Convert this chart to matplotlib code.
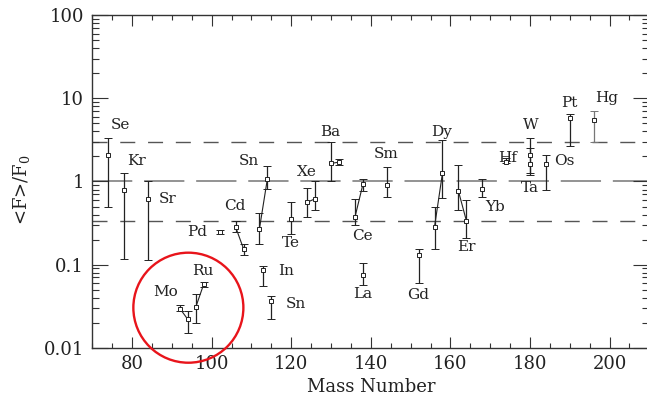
import matplotlib
matplotlib.use("Agg")
import matplotlib.pyplot as plt
from matplotlib.patches import Ellipse
from matplotlib.ticker import LogLocator, MultipleLocator, FixedFormatter, FixedLocator

plt.rcParams["font.family"] = "DejaVu Serif"
plt.rcParams["mathtext.fontset"] = "dejavuserif"
plt.rcParams["lines.scale_dashes"] = False

# ── Data ─────────────────────────────────────────────────────────────────────
mass  = [74, 78, 84, 92, 94, 96, 98, 102, 106, 108, 112, 114, 113, 115, 120,
         124, 126, 130, 132, 136, 138, 138, 144, 152, 156, 158, 162, 164, 168,
         174, 180, 180, 184, 190, 196]
ratio = [2.08, 0.78, 0.61, 0.0296, 0.0219, 0.0308, 0.0582, 0.247, 0.284, 0.155,
         0.27, 1.08, 0.0858, 0.036, 0.357, 0.562, 0.62, 1.65, 1.71, 0.372,
         0.925, 0.0753, 0.90, 0.131, 0.284, 1.265, 0.769, 0.338, 0.813,
         1.71, 2.08, 1.61, 1.64, 5.84, 5.43]
low   = [0.49, 0.117, 0.115, 0.0273, 0.0149, 0.0198, 0.0542, 0.236, 0.25, 0.131,
         0.178, 0.82, 0.0545, 0.0223, 0.232, 0.378, 0.451, 1.0, 1.57, 0.30,
         0.775, 0.0567, 0.657, 0.060, 0.153, 0.628, 0.455, 0.211, 0.646,
         1.65, 1.28, 1.2, 0.79, 2.69, 2.96]
high  = [3.36, 1.28, 1.0, 0.0322, 0.0273, 0.0437, 0.062, 0.258, 0.33, 0.179,
         0.415, 1.52, 0.0966, 0.042, 0.572, 0.83, 1.0, 2.98, 1.88, 0.616,
         1.08, 0.105, 1.51, 0.155, 0.499, 3.12, 1.565, 0.6, 1.07,
         1.93, 3.36, 2.5, 2.06, 6.42, 7.03]
# isotope pairs joined by a line (indices into the arrays above)
pairs = [(3, 4), (5, 6), (8, 9), (10, 11), (15, 16), (17, 18), (19, 20),
         (24, 25), (26, 27)]

elements = ["Se", "Kr", "Sr", "Mo", "Ru", "Pd", "Cd", "Sn", "In", "Sn", "Te",
            "Xe", "Ba", "Sm", "Ce", "La", "Gd", "Dy", "Er", "Yb", "Hf", "W",
            "Os", "Ta", "Pt", "Hg"]
label_x = [77.1, 81.0, 89.0, 88.4, 97.8, 96.4, 105.9, 109.4, 118.7, 121.2, 119.9,
           123.9, 129.7, 143.9, 137.9, 137.9, 151.8, 157.9, 163.9, 171.2, 174.3,
           180.2, 188.5, 180.0, 189.9, 199.3]
label_y = [4.73, 1.78, 0.616, 0.0462, 0.0841, 0.247, 0.512, 1.76, 0.0826, 0.0338,
           0.183, 1.31, 3.90, 2.14, 0.221, 0.0442, 0.0433, 3.97, 0.165, 0.490,
           1.93, 4.77, 1.76, 0.828, 8.70, 9.98]

ref_levels = [1 / 3, 1, 3]
y_ticks = [0.01, 0.1, 1, 10, 100]
y_tick_labels = ["0.01", "0.1", "1", "10", "100"]

# ── Figure ───────────────────────────────────────────────────────────────────
ink = "#222222"
fig = plt.figure(figsize=(6.47, 3.96), dpi=100)
ax = fig.add_axes([0.1427, 0.122, 0.861, 0.8394])
ax.set_yscale("log")
ax.set_xlim(70, 210)
ax.set_ylim(0.01, 100)

# reference lines
ax.axhline(ref_levels[1], color="#8a8a8a", lw=1.3, dashes=(29, 8.5), zorder=1)
for lv in (ref_levels[0], ref_levels[2]):
    ax.axhline(lv, color="#555555", lw=1.0, dashes=(10.8, 9.2), zorder=1)

# connecting lines
for i, j in pairs:
    ax.plot([mass[i], mass[j]], [ratio[i], ratio[j]], color=ink, lw=0.8, zorder=2)

# error bars with open squares
for k in range(len(mass)):
    c = "#777777" if k == len(mass) - 1 else ink
    ax.errorbar(mass[k], ratio[k],
                yerr=[[ratio[k] - low[k]], [high[k] - ratio[k]]],
                fmt="s", ms=3.2, mfc="white", mec=ink, mew=0.7,
                ecolor=c, elinewidth=0.9, capsize=2.6, capthick=0.9, zorder=3)

for name, lx, ly in zip(elements, label_x, label_y):
    ax.text(lx, ly, name, ha="center", va="center", fontsize=11, color=ink)

# red circle around Mo / Ru
ax.add_patch(Ellipse((0.1724, 0.1203), 0.1975, 0.331, transform=ax.transAxes,
                     fill=False, ec="#e8141b", lw=1.7, clip_on=False, zorder=5))

# axes styling
for s in ax.spines.values():
    s.set_color("#333333")
    s.set_linewidth(1.0)
ax.xaxis.set_major_locator(MultipleLocator(20))
ax.xaxis.set_minor_locator(MultipleLocator(5))
ax.yaxis.set_major_locator(FixedLocator(y_ticks))
ax.yaxis.set_major_formatter(FixedFormatter(y_tick_labels))
ax.yaxis.set_minor_locator(LogLocator(base=10, subs=range(2, 10)))
ax.tick_params(which="both", direction="in", top=True, right=True,
               colors="#333333", labelcolor=ink, labelsize=13)
ax.tick_params(axis="x", which="major", length=7.7, width=0.8, pad=5)
ax.tick_params(axis="x", which="minor", length=3.8, width=0.8)
ax.tick_params(axis="y", which="major", length=11.5, width=0.8, pad=6)
ax.tick_params(axis="y", which="minor", length=5, width=0.8)

ax.set_xlabel("Mass Number", fontsize=13, color=ink, labelpad=4)
fig.text(0.033, 0.52, r"<F>/F$_0$", rotation=90, ha="center", va="center",
         fontsize=13, color=ink)

fig.savefig("out.png", dpi=100)
